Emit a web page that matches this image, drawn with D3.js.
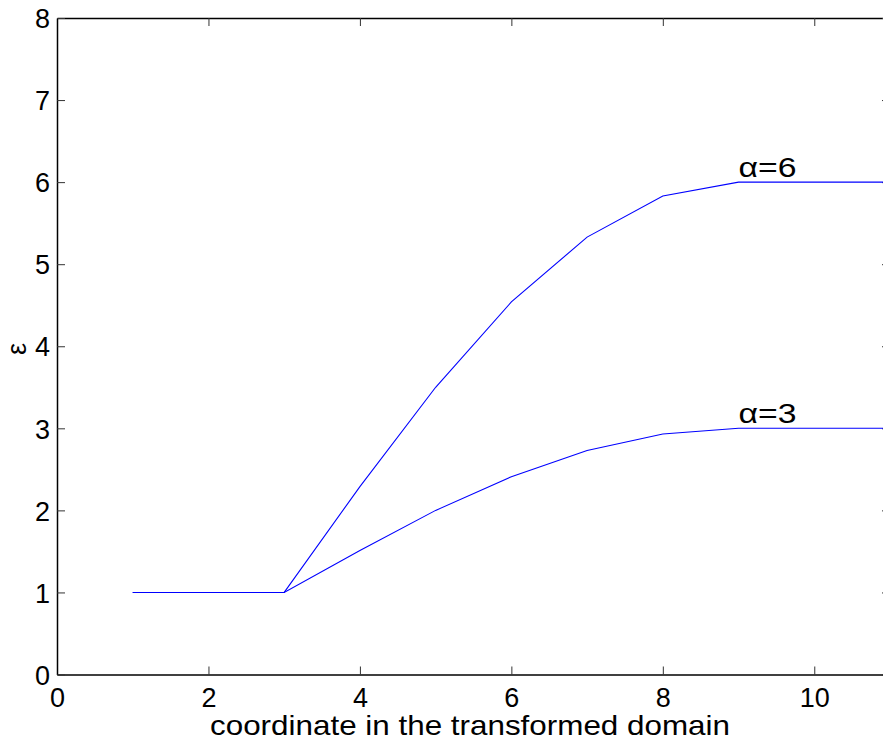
<!DOCTYPE html>
<html>
<head>
<meta charset="utf-8">
<script src="https://cdn.jsdelivr.net/npm/d3@7"></script>
<style>
html,body{margin:0;padding:0;background:#fff;}
svg{display:block;}
text{font-family:"Liberation Sans",Arial,sans-serif;}
</style>
</head>
<body>
<svg id="chart" width="883" height="744"></svg>
<script>
const xValues = [1, 2, 3, 4, 5, 6, 7, 8, 9, 10, 11];
const alpha6 = [1, 1, 1, 2.29, 3.5, 4.54, 5.33, 5.83, 6, 6, 6];
const alpha3 = [1, 1, 1, 1.51, 2, 2.41, 2.73, 2.93, 3, 3, 3];
const seriesLabels = ["\u03b1=6", "\u03b1=3"];
const xTicks = [0, 2, 4, 6, 8, 10];
const yTicks = [0, 1, 2, 3, 4, 5, 6, 7, 8];
const xLabel = "coordinate in the transformed domain";
const yLabel = "\u03b5";

(function () {
const svg = d3.select("#chart");
const mLeft = 57, mRight = 890, mTop = 18, mBottom = 674.5;
const x = d3.scaleLinear().domain([0, 11]).range([mLeft, mRight]);
const y = d3.scaleLinear().domain([0, 8]).range([mBottom, mTop]);
const tickLen = 8;
const fontSize = 27;
const axisColor = "#000";
const g = svg.append("g");

const xb = g.append("g").attr("transform", `translate(0,${mBottom})`)
  .call(d3.axisBottom(x).tickValues(xTicks).tickSizeInner(-tickLen).tickSizeOuter(0).tickPadding(13).tickFormat(d3.format("d")));
const xt = g.append("g").attr("transform", `translate(0,${mTop})`)
  .call(d3.axisTop(x).tickValues(xTicks).tickSizeInner(-tickLen).tickSizeOuter(0).tickFormat(""));
const yl = g.append("g").attr("transform", `translate(${mLeft},0)`)
  .call(d3.axisLeft(y).tickValues(yTicks).tickSizeInner(-tickLen).tickSizeOuter(0).tickPadding(7).tickFormat(d3.format("d")));
const yr = g.append("g").attr("transform", `translate(${mRight},0)`)
  .call(d3.axisRight(y).tickValues(yTicks).tickSizeInner(-tickLen).tickSizeOuter(0).tickFormat(""));

[xb, xt, yl, yr].forEach(a => {
  a.select(".domain").attr("stroke", axisColor).attr("stroke-width", 1.5);
  a.selectAll(".tick line").attr("stroke", "#333").attr("stroke-width", 1);
  a.selectAll(".tick text").attr("font-size", fontSize).attr("fill", "#000")
    .attr("font-family", "'Liberation Sans', Arial, sans-serif");
});
xb.selectAll(".tick text").attr("dy", "0.71em");
yl.selectAll(".tick text").attr("dy", "0.36em");

const line = d3.line().x((d, i) => x(xValues[i])).y(d => y(d));
[alpha6, alpha3].forEach(s => {
  svg.append("path").datum(s)
    .attr("d", line)
    .attr("fill", "none")
    .attr("stroke", "#0000ff")
    .attr("stroke-width", 1.1);
});

svg.append("text").attr("x", x(9)).attr("y", y(6) - 5)
  .attr("font-size", 28).attr("fill", "#000")
  .attr("textLength", 58).attr("lengthAdjust", "spacingAndGlyphs")
  .text(seriesLabels[0]);
svg.append("text").attr("x", x(9)).attr("y", y(3) - 5)
  .attr("font-size", 28).attr("fill", "#000")
  .attr("textLength", 58).attr("lengthAdjust", "spacingAndGlyphs")
  .text(seriesLabels[1]);

svg.append("text").attr("x", (mLeft + 883) / 2).attr("y", 735)
  .attr("text-anchor", "middle").attr("font-size", 28).attr("fill", "#000")
  .attr("textLength", 520).attr("lengthAdjust", "spacingAndGlyphs")
  .text(xLabel);
svg.append("text").attr("transform", `translate(26,349) rotate(-90)`)
  .attr("text-anchor", "middle").attr("font-size", fontSize).attr("fill", "#000")
  .text(yLabel);
})();
</script>
</body>
</html>
